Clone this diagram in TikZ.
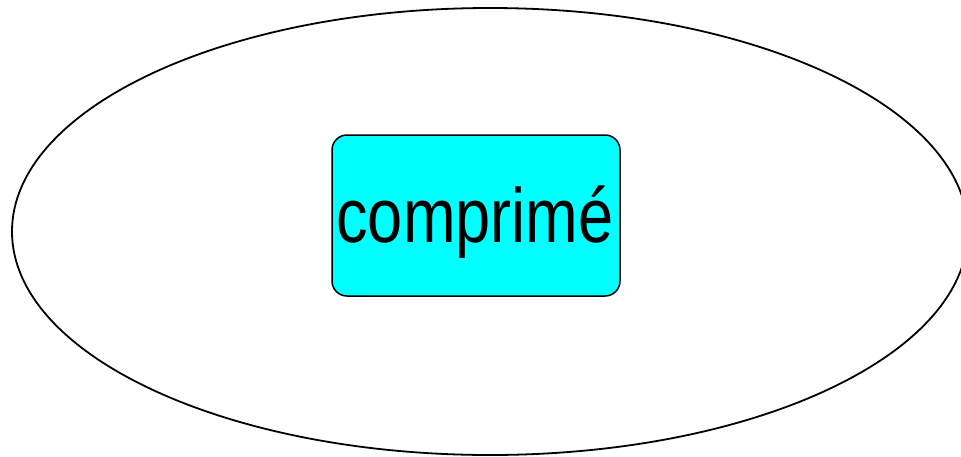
\documentclass[tikz,border=0pt]{standalone}
\usepackage{fontspec}
\setmainfont{Liberation Sans}
\definecolor{aqua}{RGB}{0,255,255}
\tikzset{
  frame/.style={draw=black, line width=1.8pt},
  compbox/.style={draw=black, line width=1.5pt, fill=aqua, rounded corners=15pt,
    minimum width=288pt, minimum height=161pt, inner sep=0pt},
}
\begin{document}
\begin{tikzpicture}[x=1pt, y=-1pt]
  \useasboundingbox (0,0) rectangle (961,456);
  \begin{scope}
    \clip (0,0) rectangle (961,456);
    \draw[frame] (490,231.5) ellipse [x radius=478, y radius=223.5];
  \end{scope}
  \node[compbox] (comp) at (476,215.5) {};
  \node[inner sep=0pt, anchor=base] (label) at (475,242)
    {\scalebox{0.82}[1]{\fontsize{77pt}{80pt}\selectfont comprimé}};
\end{tikzpicture}
\end{document}
